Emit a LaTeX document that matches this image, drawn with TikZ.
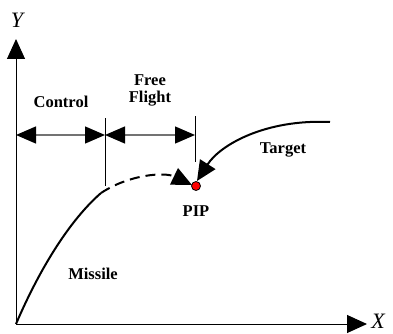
\documentclass[tikz,border=0pt]{standalone}
\usepackage{fontspec}
\setmainfont{Liberation Serif}
\usetikzlibrary{arrows.meta}
\begin{document}
\begin{tikzpicture}[x=1pt,y=-1pt,
  lbl/.style={font=\fontsize{16.5}{17}\selectfont\bfseries, align=center, inner sep=0pt},
  axlbl/.style={font=\fontsize{22}{23}\selectfont\itshape, inner sep=0pt},
  bigtip/.style={-{Triangle[length=20pt,width=18pt]}},
  dimline/.style={draw=black!55, line width=1.3pt, {Triangle[length=20pt,width=17pt,fill=black,color=black]}-{Triangle[length=20pt,width=17pt,fill=black,color=black]}},
  traj/.style={line width=2pt}]
\useasboundingbox (0,0) rectangle (393,334);
% axes
\coordinate (O) at (16,324);
\coordinate (Ytip) at (16,39);
\coordinate (Xtip) at (367,324);
\draw[line width=1pt, bigtip] (O) -- (Ytip);
\draw[line width=1pt, bigtip] (O) -- (Xtip);
\node[axlbl, anchor=base] (Y) at (17,28) {Y};
\node[axlbl, anchor=base] (X) at (378,328) {X};
% dimension ticks
\coordinate (t1a) at (105,118);
\coordinate (t1b) at (105,186);
\coordinate (t2a) at (195,116);
\coordinate (t2b) at (195,162);
\draw[line width=0.8pt] (t1a) -- (t1b);
\draw[line width=0.8pt] (t2a) -- (t2b);
\coordinate (d0) at (16,135);
\coordinate (d1) at (105,135);
\coordinate (d2) at (195,135);
\draw[dimline] (d0) -- (d1);
\draw[dimline] (d1) -- (d2);
\node[lbl] (ctrl) at (61,102) {Control};
\node[lbl] (ff) at (150,90) {Free\\Flight};
% PIP
\coordinate (P) at (196,186);
% missile
\coordinate (M1) at (101,193);
\draw[traj] (O) .. controls (40,268) and (70,220) .. (M1);
\draw[traj, dash pattern=on 10pt off 6pt, -{Triangle[length=20pt,width=18pt]}] (M1) .. controls (130,174) and (165,172) .. (192,185);
% target
\coordinate (T0) at (330,122);
\draw[traj, -{Triangle[length=20pt,width=18pt]}] (T0) .. controls (265,119) and (220,145) .. (197,181);
\node[circle, fill=red, draw=black, line width=0.8pt, minimum size=9pt, inner sep=0pt] (pip) at (P) {};
\node[lbl] (pipl) at (196,211) {PIP};
\node[lbl] (tgt) at (283,150) {Target};
\node[lbl] (mis) at (93,274) {Missile};
\end{tikzpicture}
\end{document}
